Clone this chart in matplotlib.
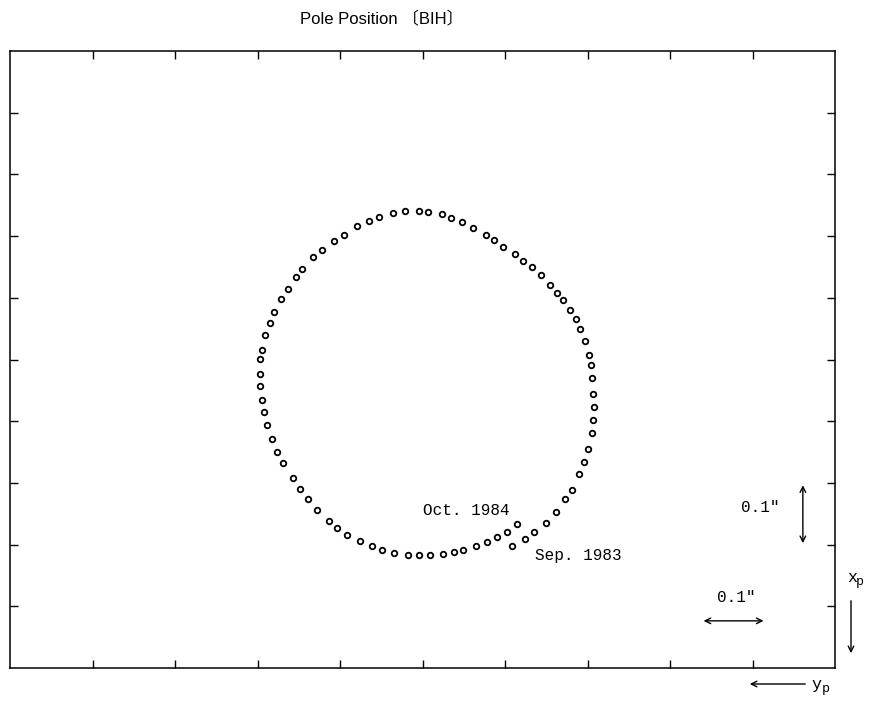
import numpy as np
import matplotlib
matplotlib.use('Agg')
import matplotlib.pyplot as plt

# Pole position (BIH), Sep. 1983 -> Oct. 1984, arcsec
y_p = [0.166, 0.146, 0.131, 0.113, 0.097, 0.083, 0.072, 0.061, 0.053, 0.046,
       0.040, 0.038, 0.037, 0.038, 0.039, 0.041, 0.044, 0.051, 0.059, 0.065,
       0.075, 0.086, 0.095, 0.106, 0.120, 0.135, 0.149, 0.162, 0.181, 0.195,
       0.208, 0.228, 0.246, 0.263, 0.278, 0.300, 0.315, 0.336, 0.355, 0.378,
       0.394, 0.413, 0.433, 0.449, 0.468, 0.482, 0.500, 0.510, 0.523, 0.534,
       0.545, 0.551, 0.558, 0.563, 0.566, 0.567, 0.566, 0.563, 0.560, 0.555,
       0.547, 0.539, 0.530, 0.515, 0.503, 0.491, 0.476, 0.457, 0.444, 0.429,
       0.408, 0.389, 0.373, 0.354, 0.332, 0.315, 0.297, 0.277, 0.258, 0.244,
       0.224, 0.206, 0.191, 0.175, 0.158]
x_p = [0.316, 0.304, 0.294, 0.278, 0.261, 0.240, 0.225, 0.200, 0.179, 0.158,
       0.133, 0.111, 0.090, 0.070, 0.044, 0.022, 0.007, -0.017, -0.036, -0.052,
       -0.067, -0.083, -0.095, -0.107, -0.123, -0.137, -0.146, -0.157, -0.169, -0.180,
       -0.188, -0.200, -0.209, -0.216, -0.222, -0.226, -0.228, -0.227, -0.224, -0.218,
       -0.211, -0.203, -0.189, -0.178, -0.164, -0.152, -0.133, -0.120, -0.101, -0.084,
       -0.063, -0.046, -0.027, -0.002, 0.013, 0.037, 0.057, 0.079, 0.098, 0.120,
       0.142, 0.163, 0.181, 0.205, 0.224, 0.240, 0.258, 0.276, 0.287, 0.298,
       0.308, 0.316, 0.322, 0.327, 0.330, 0.331, 0.331, 0.329, 0.326, 0.323,
       0.316, 0.310, 0.301, 0.293, 0.281]

W, H = 872, 702
mono = 'Liberation Mono'


def fpx(x, y):
    # pixel (from top-left) -> figure fraction
    return (x / W, 1 - y / H)


fig = plt.figure(figsize=(W / 100, H / 100), dpi=100)
ax = fig.add_axes([10 / W, 1 - 668 / H, 825 / W, 617 / H])

ax.plot(y_p, x_p, linestyle='none', marker='o', ms=4, mfc='white',
        mec='black', mew=1.3)

# y_p grows to the left, x_p grows downward
ax.set_xlim(0.9635, -0.346)
ax.set_ylim(0.514, -0.487)

xt = np.linspace(0.9635, -0.346, 11)[1:-1]
yt = np.linspace(0.514, -0.487, 11)[1:-1]
ax.set_xticks(xt)
ax.set_yticks(yt)
ax.tick_params(direction='in', length=5.5, width=1, top=True, right=True,
               labelbottom=False, labelleft=False)
for s in ax.spines.values():
    s.set_linewidth(1.1)

# labels on the curve
ax.text(0.240, 0.258, 'Oct. 1984', family=mono, fontsize=11.5, ha='center', va='center')
ax.text(0.062, 0.331, 'Sep. 1983', family=mono, fontsize=11.5, ha='center', va='center')

# 0.1" scale bars
ax.annotate('', xy=(-0.295, 0.213), xytext=(-0.295, 0.316),
            arrowprops=dict(arrowstyle='<->', lw=1, color='black'))
ax.text(-0.227, 0.253, '0.1"', family=mono, fontsize=11.5, ha='center', va='center')
ax.annotate('', xy=(-0.133, 0.4375), xytext=(-0.237, 0.4375),
            arrowprops=dict(arrowstyle='<->', lw=1, color='black'))
ax.text(-0.189, 0.399, '0.1"', family=mono, fontsize=11.5, ha='center', va='center')

# axis direction arrows outside the frame
ax.annotate('', xy=fpx(851, 656), xytext=fpx(851, 598), xycoords='figure fraction',
            arrowprops=dict(arrowstyle='->', lw=1, color='black'), annotation_clip=False)
fig.text(*fpx(852, 577), 'x', family=mono, fontsize=12, ha='center', va='center')
fig.text(*fpx(860, 582), 'p', family=mono, fontsize=9.5, ha='center', va='center')
ax.annotate('', xy=fpx(747, 684), xytext=fpx(808, 684), xycoords='figure fraction',
            arrowprops=dict(arrowstyle='->', lw=1, color='black'), annotation_clip=False)
fig.text(*fpx(816, 684), 'y', family=mono, fontsize=12, ha='center', va='center')
fig.text(*fpx(826, 689), 'p', family=mono, fontsize=9.5, ha='center', va='center')

fig.text(*fpx(382, 18), 'Pole Position 〔BIH〕', family=['Liberation Sans', 'Noto Sans CJK JP'],
         fontsize=12, ha='center', va='center')

fig.savefig('out.png', dpi=100)
